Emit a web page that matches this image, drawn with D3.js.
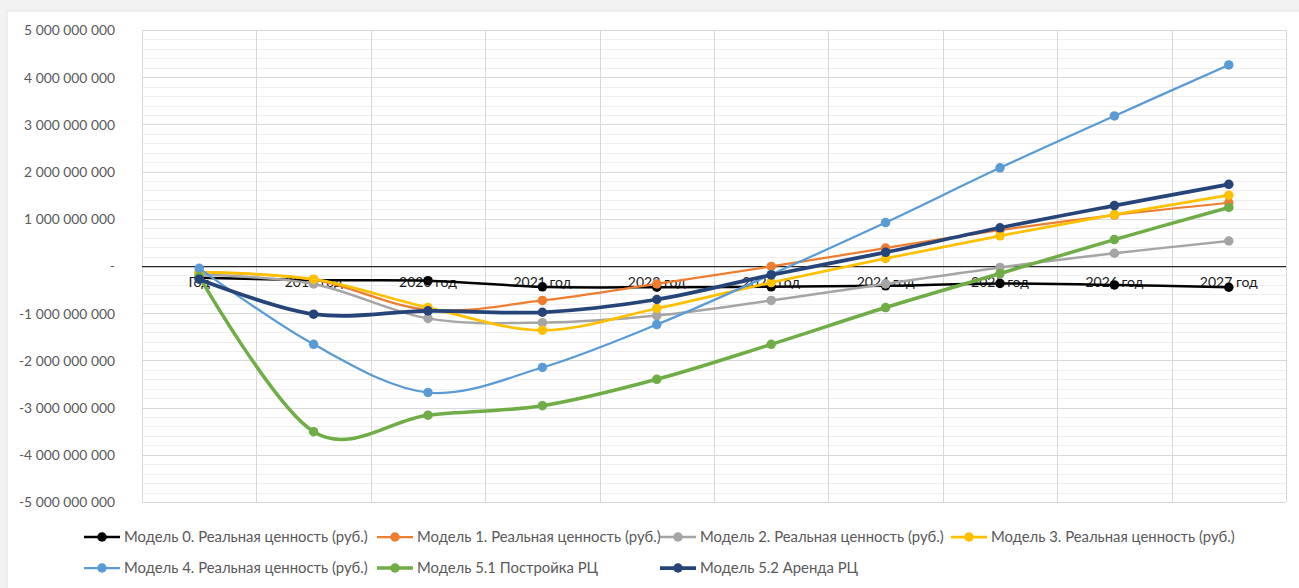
<!DOCTYPE html>
<html><head><meta charset="utf-8">
<script src="https://cdn.jsdelivr.net/npm/d3@7/dist/d3.min.js"></script>
<style>
html,body{margin:0;padding:0;background:#f2f2f2;}
svg{display:block;}
</style></head>
<body>
<svg id="chart" width="1299" height="588"></svg>
<script>
// ---- data ----
const categories = ["Год","2019 год","2020 год","2021 год","2022 год","2023 год","2024 год","2025 год","2026 год","2027 год"];
const seriesNames = [
  "Модель 0. Реальная ценность (руб.)",
  "Модель 1. Реальная ценность (руб.)",
  "Модель 2. Реальная ценность (руб.)",
  "Модель 3. Реальная ценность (руб.)",
  "Модель 4. Реальная ценность (руб.)",
  "Модель 5.1 Постройка РЦ",
  "Модель 5.2 Аренда РЦ"
];
const model0  = [-0.25e9, -0.30e9, -0.31e9, -0.44e9, -0.45e9, -0.44e9, -0.42e9, -0.37e9, -0.40e9, -0.45e9];
const model1  = [-0.13e9, -0.29e9, -0.93e9, -0.73e9, -0.38e9, -0.01e9,  0.38e9,  0.76e9,  1.08e9,  1.34e9];
const model2  = [-0.18e9, -0.38e9, -1.11e9, -1.20e9, -1.05e9, -0.73e9, -0.38e9, -0.03e9,  0.27e9,  0.53e9];
const model3  = [-0.13e9, -0.28e9, -0.88e9, -1.36e9, -0.90e9, -0.35e9,  0.16e9,  0.64e9,  1.09e9,  1.50e9];
const model4  = [-0.05e9, -1.66e9, -2.68e9, -2.15e9, -1.24e9, -0.18e9,  0.92e9,  2.08e9,  3.18e9,  4.26e9];
const model51 = [-0.22e9, -3.51e9, -3.16e9, -2.96e9, -2.40e9, -1.66e9, -0.88e9, -0.16e9,  0.56e9,  1.24e9];
const model52 = [-0.28e9, -1.02e9, -0.95e9, -0.98e9, -0.71e9, -0.19e9,  0.29e9,  0.81e9,  1.28e9,  1.73e9];
const yTicks = [-5e9,-4e9,-3e9,-2e9,-1e9,0,1e9,2e9,3e9,4e9,5e9];
const yTickLabels = ["-5 000 000 000","-4 000 000 000","-3 000 000 000","-2 000 000 000","-1 000 000 000","-","1 000 000 000","2 000 000 000","3 000 000 000","4 000 000 000","5 000 000 000"];

const seriesValues = [model0, model1, model2, model3, model4, model51, model52];
const colors = ["#000000","#ED7D31","#A5A5A5","#FFC000","#5B9BD5","#70AD47","#264478"];
const widths = [2.5, 2.25, 2.5, 2.75, 2.25, 3.5, 3.75];

// ---- layout ----
const FONT = "Lato, 'Open Sans', sans-serif";
const svg = d3.select("#chart");
const M = {left:142, right:1286, top:30, bottom:502};

// white panel
svg.append("rect").attr("x",7).attr("y",11).attr("width",1299).attr("height",600)
  .attr("fill","#fff").attr("stroke","#e3e3e3").attr("stroke-width",1);

function fitSize(text, target){
  const t = svg.append("text").attr("font-family",FONT).attr("font-size",100).text(text);
  const w = t.node().getComputedTextLength();
  t.remove();
  return 100*target/w;
}
const yFont = fitSize("5 000 000 000", 91);
const xFont = fitSize("2019 год", 58);
const legFont = fitSize(seriesNames[0], 244);

const x = d3.scaleBand().domain(categories).range([M.left, M.right]);
const cx = d => x(d) + x.bandwidth()/2;
const y = d3.scaleLinear().domain([-5e9, 5e9]).range([M.bottom, M.top]);

const g = svg.append("g");
// minor gridlines
const minor = d3.range(-5e9, 5e9 + 1, 0.2e9).filter(v => Math.abs(Math.round(v/1e9) - v/1e9) > 1e-6);
g.append("g").selectAll("line").data(minor).join("line")
  .attr("x1",M.left).attr("x2",M.right).attr("y1",d=>Math.round(y(d))+0.5).attr("y2",d=>Math.round(y(d))+0.5)
  .attr("stroke","#efefef").attr("stroke-width",1);
// major gridlines
g.append("g").selectAll("line").data(yTicks.filter(v=>v!==0)).join("line")
  .attr("x1",M.left).attr("x2",M.right).attr("y1",d=>Math.round(y(d))+0.5).attr("y2",d=>Math.round(y(d))+0.5)
  .attr("stroke","#d9d9d9").attr("stroke-width",1);
// vertical gridlines at band boundaries
const vb = categories.map(c => x(c)).concat([M.right]);
g.append("g").selectAll("line").data(vb).join("line")
  .attr("x1",d=>Math.round(d)+0.5).attr("x2",d=>Math.round(d)+0.5).attr("y1",M.top).attr("y2",M.bottom)
  .attr("stroke","#d9d9d9").attr("stroke-width",1);

// y axis labels
const yAxis = d3.axisLeft(y).tickValues(yTicks).tickSize(0).tickPadding(0)
  .tickFormat((d,i) => yTickLabels[i]);
const ya = svg.append("g").attr("transform","translate(115,0)").call(yAxis);
ya.select(".domain").remove();
ya.selectAll("text").attr("font-family",FONT).attr("font-size",yFont).attr("fill","#595959").attr("dy","0.35em");

// zero line
svg.append("line").attr("x1",M.left).attr("x2",M.right)
  .attr("y1",Math.round(y(0))+0.5).attr("y2",Math.round(y(0))+0.5)
  .attr("stroke","#262626").attr("stroke-width",1.25);

// x axis labels (below zero line)
const xAxis = d3.axisBottom(x).tickSize(0).tickPadding(0);
const xa = svg.append("g").attr("transform",`translate(0,${y(0)})`).call(xAxis);
xa.select(".domain").remove();
xa.selectAll("text").attr("font-family",FONT).attr("font-size",xFont).attr("fill","#1a1a1a")
  .attr("y",0).attr("dy","1.5em");

// series
const line = d3.line().x((d,i)=>cx(categories[i])).y(d=>y(d)).curve(d3.curveCardinal.tension(0));
seriesValues.forEach((vals, si) => {
  const sg = svg.append("g");
  sg.append("path").attr("d", line(vals)).attr("fill","none")
    .attr("stroke",colors[si]).attr("stroke-width",widths[si]).attr("stroke-linejoin","round").attr("stroke-linecap","round");
  sg.selectAll("circle").data(vals).join("circle")
    .attr("cx",(d,i)=>cx(categories[i])).attr("cy",d=>y(d)).attr("r",4.75)
    .attr("fill",colors[si]);
});

// legend
const legCols = [84, 377, 660, 951];
const legRows = [537, 568];
seriesNames.forEach((name, i) => {
  const r = i < 4 ? 0 : 1;
  const c = i < 4 ? i : i - 4;
  const lx = legCols[c], ly = legRows[r];
  const lg = svg.append("g");
  lg.append("line").attr("x1",lx).attr("x2",lx+36).attr("y1",ly).attr("y2",ly)
    .attr("stroke",colors[i]).attr("stroke-width",widths[i]);
  lg.append("circle").attr("cx",lx+18).attr("cy",ly).attr("r",4.75).attr("fill",colors[i]);
  lg.append("text").attr("x",lx+40).attr("y",ly).attr("dy","0.35em")
    .attr("font-family",FONT).attr("font-size",legFont).attr("fill","#595959").text(name);
});
</script>
</body></html>
